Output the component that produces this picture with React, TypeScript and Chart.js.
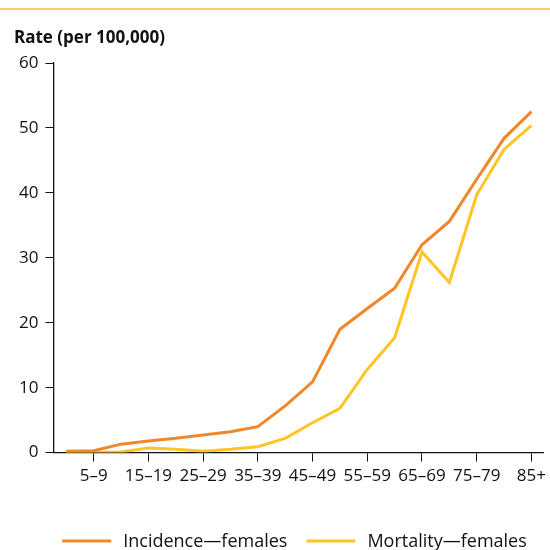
import React, { useEffect, useRef } from "react";
import { Chart, registerables } from "chart.js";

Chart.register(...registerables);

const categories = ["0–4", "5–9", "10–14", "15–19", "20–24", "25–29", "30–34", "35–39", "40–44", "45–49", "50–54", "55–59", "60–64", "65–69", "70–74", "75–79", "80–84", "85+"];
const incidence = [0.2, 0.3, 1.3, 1.8, 2.2, 2.7, 3.2, 4.0, 7.2, 10.9, 19.0, 22.2, 25.3, 32.0, 35.6, 42.1, 48.4, 52.5];
const mortality = [0.0, 0.0, 0.1, 0.7, 0.5, 0.2, 0.5, 0.9, 2.2, 4.6, 6.8, 12.8, 17.7, 30.9, 26.2, 39.7, 46.7, 50.4];
const yTicks = [0, 10, 20, 30, 40, 50, 60];
const axisTitle = "Rate (per 100,000)";
const seriesLabels = ["Incidence—females", "Mortality—females"];
const seriesColors = ["#F0872A", "#FFC425"];

const FONT = "'Open Sans', 'Noto Sans', sans-serif";

export default function App() {
  const ref = useRef<HTMLCanvasElement | null>(null);
  useEffect(() => {
    document.body.style.margin = "0";
    const canvas = ref.current;
    if (!canvas) return;
    const decor = {
      id: "decor",
      afterDraw(chart: any) {
        const ctx = chart.ctx;
        ctx.save();
        // top rule
        ctx.strokeStyle = "#FBC02D";
        ctx.lineWidth = 1.5;
        ctx.beginPath();
        ctx.moveTo(0, 9);
        ctx.lineTo(550, 9);
        ctx.stroke();
        // axis title
        ctx.fillStyle = "#111";
        ctx.font = `bold 17px ${FONT}`;
        ctx.textBaseline = "alphabetic";
        ctx.textAlign = "left";
        ctx.fillText(axisTitle, 14, 43);
        // legend
        ctx.font = `18px ${FONT}`;
        const sample = 49;
        const gap = 12;
        const itemGap = 19;
        const items = chart.data.datasets.map((ds: any) => ({
          label: ds.label,
          color: ds.borderColor,
          w: ctx.measureText(ds.label).width,
        }));
        const total = items.reduce((s: number, it: any) => s + sample + gap + it.w, 0) + itemGap * (items.length - 1);
        let x = 294.5 - total / 2;
        const yLine = 541;
        items.forEach((it: any) => {
          ctx.strokeStyle = it.color;
          ctx.lineWidth = 3;
          ctx.beginPath();
          ctx.moveTo(x, yLine);
          ctx.lineTo(x + sample, yLine);
          ctx.stroke();
          ctx.fillStyle = "#111";
          ctx.fillText(it.label, x + sample + gap, 547);
          x += sample + gap + it.w + itemGap;
        });
        ctx.restore();
      },
    };
    const chart = new Chart(canvas, {
      type: "line",
      data: {
        datasets: [
          {
            label: seriesLabels[0],
            data: incidence.map((v, i) => ({ x: i, y: v })),
            borderColor: seriesColors[0],
            backgroundColor: seriesColors[0],
            borderWidth: 3,
            pointRadius: 0,
            tension: 0,
          },
          {
            label: seriesLabels[1],
            data: mortality.map((v, i) => ({ x: i, y: v })),
            borderColor: seriesColors[1],
            backgroundColor: seriesColors[1],
            borderWidth: 3,
            pointRadius: 0,
            tension: 0,
          },
        ],
      },
      options: {
        responsive: false,
        animation: false,
        layout: { padding: { top: 63, left: 12, right: 0, bottom: 60 } },
        plugins: {
          title: { display: false },
          tooltip: { enabled: false },
          legend: { display: false },
        },
        scales: {
          x: {
            type: "linear",
            min: -0.47,
            max: 17.45,
            afterBuildTicks: (axis: any) => {
              axis.ticks = categories
                .map((c, i) => ({ value: i }))
                .filter((t) => t.value % 2 === 1);
            },
            ticks: {
              autoSkip: false,
              maxRotation: 0,
              padding: 4,
              color: "#111",
              font: { family: FONT, size: 17 },
              callback: (v: any) => categories[v as number] ?? "",
            },
            grid: { drawOnChartArea: false, drawTicks: true, tickLength: 9, color: "#111" },
            border: { color: "#111", width: 1.3 },
          },
          y: {
            min: 0,
            max: 60,
            afterBuildTicks: (axis: any) => {
              axis.ticks = yTicks.map((v) => ({ value: v }));
            },
            ticks: {
              padding: 7,
              color: "#111",
              font: { family: FONT, size: 17 },
            },
            grid: { drawOnChartArea: false, drawTicks: true, tickLength: 8, color: "#111" },
            border: { color: "#111", width: 1.3 },
          },
        },
      },
      plugins: [decor],
    });
    return () => chart.destroy();
  }, []);
  return <canvas ref={ref} width={550} height={550} style={{ display: "block" }} />;
}
